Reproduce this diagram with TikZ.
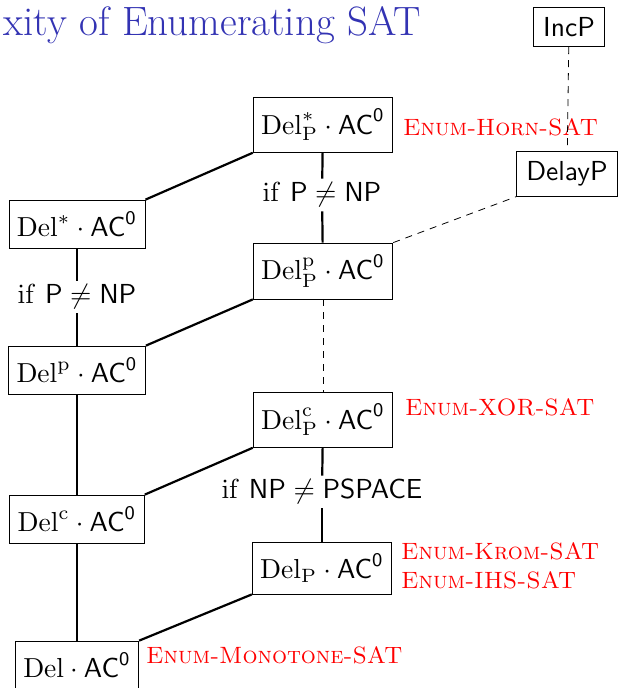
\RequirePackage{fix-cm}
\documentclass[tikz,border=0pt]{standalone}
\usepackage{amsmath}
\usepackage{graphicx}
\definecolor{titleblue}{RGB}{51,51,179}
% text set at 10pt and enlarged, so the strokes keep the 10pt design weight
\newcommand{\bigtxt}[1]{\scalebox{2.75}{#1}}
\newcommand{\probtxt}[1]{\scalebox{2.36}{\scshape #1}}
\newcommand{\acz}{\mathsf{AC}^{\mathsf{0}}}
\begin{document}
\begin{tikzpicture}[x=1pt,y=-1pt,
  cls/.style={draw,line width=0.8pt,inner xsep=8pt,inner ysep=11.5pt},
  cond/.style={inner sep=4pt},
  prob/.style={text=red,anchor=west,inner sep=0pt},
  link/.style={line width=2.2pt},
  weak/.style={line width=0.8pt,dash pattern=on 7pt off 6pt}]
\useasboundingbox (0,0) rectangle (619,688);

% heading
\node[anchor=base east,inner sep=0pt,text=titleblue,
  font=\fontsize{41}{46}\selectfont] (title) at (421,35) {xity of Enumerating SAT};

% right column
\node[cls] (dstarP) at (323,125) {\bigtxt{$\mathrm{Del}^{*}_{\mathrm{P}}\cdot\acz$}};
\node[cls] (dpP)    at (323,271) {\bigtxt{$\mathrm{Del}^{\mathrm{p}}_{\mathrm{P}}\cdot\acz$}};
\node[cls] (dcP)    at (323,420) {\bigtxt{$\mathrm{Del}^{\mathrm{c}}_{\mathrm{P}}\cdot\acz$}};
\node[cls] (dP)     at (322,568) {\bigtxt{$\mathrm{Del}_{\mathrm{P}}\cdot\acz$}};

% left column
\node[cls] (dstar) at (77,224) {\bigtxt{$\mathrm{Del}^{*}\cdot\acz$}};
\node[cls] (dp)    at (77,370) {\bigtxt{$\mathrm{Del}^{\mathrm{p}}\cdot\acz$}};
\node[cls] (dc)    at (77,519) {\bigtxt{$\mathrm{Del}^{\mathrm{c}}\cdot\acz$}};
\node[cls] (d)     at (77,665) {\bigtxt{$\mathrm{Del}\cdot\acz$}};

% polynomial classes
\node[cls,inner xsep=10pt,inner ysep=10pt] (incp)   at (569,27)  {\bigtxt{\sffamily IncP}};
\node[cls,inner xsep=10pt,inner ysep=10pt] (delayp) at (567,174) {\bigtxt{\sffamily DelayP}};

% separation conditions
\node[cond] (c1) at (322,195) {\bigtxt{$\mathrm{if}\ \mathsf{P}\neq\mathsf{NP}$}};
\node[cond] (c2) at (77,297)  {\bigtxt{$\mathrm{if}\ \mathsf{P}\neq\mathsf{NP}$}};
\node[cond] (c3) at (322,492) {\bigtxt{$\mathrm{if}\ \mathsf{NP}\neq\mathsf{PSPACE}$}};

% problems
\node[prob] (horn) at (403,127) {\probtxt{Enum-Horn-SAT}};
\node[prob] (xor)  at (405,407) {\probtxt{Enum-XOR-SAT}};
\node[prob] (krom) at (401,551) {\probtxt{Enum-Krom-SAT}};
\node[prob] (ihs)  at (401,580) {\probtxt{Enum-IHS-SAT}};
\node[prob] (mono) at (146,655) {\probtxt{Enum-Monotone-SAT}};

% inclusions
\draw[link] (dstarP.south west) -- (dstar.north east);
\draw[link] (dpP.south west) -- (dp.north east);
\draw[link] (dcP.south west) -- (dc.north east);
\draw[link] (dP.south west) -- (d.north east);

\draw[link] (dstarP) -- (c1);
\draw[link] (c1) -- (dpP);
\draw[link] (dcP) -- (c3);
\draw[link] (c3) -- (dP);
\draw[link] (dstar) -- (c2);
\draw[link] (c2) -- (dp);
\draw[link] (dp) -- (dc);
\draw[link] (dc) -- (d);

\draw[weak] (dpP) -- (dcP);
\draw[weak] (dpP.north east) -- (delayp.south west);
\draw[weak] (incp) -- (delayp);
\end{tikzpicture}
\end{document}
